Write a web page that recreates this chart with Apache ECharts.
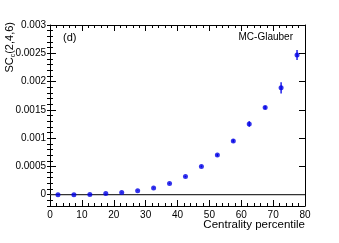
<!DOCTYPE html>
<html><head><meta charset="utf-8">
<script src="https://cdn.jsdelivr.net/npm/echarts@6/dist/echarts.min.js"></script>
<style>html,body{margin:0;padding:0;background:#fff}#c{width:339px;height:243px}</style>
</head><body><div id="c"></div>
<script>
const centrality = [2.5, 7.5, 12.5, 17.5, 22.5, 27.5, 32.5, 37.5, 42.5, 47.5, 52.5, 57.5, 62.5, 67.5, 72.5, 77.5];
const sc246 = [0.0, 0.0, 0.000005, 0.00002, 0.00004, 0.00007, 0.00012, 0.0002, 0.00032, 0.0005, 0.0007, 0.00095, 0.00125, 0.00154, 0.00189, 0.00247];
const sc246Err = [0.000005, 0.000005, 0.000005, 0.000005, 0.000005, 0.000006, 0.000008, 0.00001, 0.000012, 0.000015, 0.00002, 0.000025, 0.00005, 0.00003, 0.0001, 0.00009];
const yMajor = [0, 0.0005, 0.001, 0.0015, 0.002, 0.0025, 0.003];
const yMinor = [];
for (let i = -2; i <= 30; i++) yMinor.push(+(i * 0.0001).toFixed(4));
const xMajor = [0, 10, 20, 30, 40, 50, 60, 70, 80];

const font = 'Liberation Sans, Arial, sans-serif';
const chart = echarts.init(document.getElementById('c'), null, {renderer: 'canvas'});
const yBase = {
  type: 'value', min: -0.0002, max: 0.003,
  splitLine: {show: false}
};
const fmt = v => Number(v.toFixed(4)).toString();
const pts = centrality.map((x, i) => [x, sc246[i], sc246Err[i]]);
chart.setOption({
  animation: false,
  grid: {left: 50, right: 34, top: 25, bottom: 37},
  xAxis: [
    {type: 'value', min: 0, max: 80, interval: 10, position: 'bottom',
     axisLine: {onZero: false, lineStyle: {color: '#000', width: 1}},
     axisTick: {inside: true, length: 6, customValues: xMajor, lineStyle: {color: '#000'}},
     minorTick: {show: true, splitNumber: 5, length: 3, lineStyle: {color: '#000'}},
     axisLabel: {color: '#000', fontSize: 10, fontFamily: font, margin: 4, customValues: xMajor},
     splitLine: {show: false}},
    {type: 'value', min: 0, max: 80, interval: 10, position: 'top',
     axisLine: {onZero: false, lineStyle: {color: '#000', width: 1}},
     axisTick: {inside: true, length: 6, lineStyle: {color: '#000'}},
     minorTick: {show: true, splitNumber: 5, length: 3, lineStyle: {color: '#000'}},
     axisLabel: {show: false}, splitLine: {show: false}}
  ],
  yAxis: [
    Object.assign({}, yBase, {position: 'left',
      axisLine: {show: true, onZero: false, lineStyle: {color: '#000'}},
      axisTick: {show: true, inside: true, length: 6, customValues: yMajor, lineStyle: {color: '#000'}},
      axisLabel: {color: '#000', fontSize: 10, fontFamily: font, margin: 4, customValues: yMajor, formatter: fmt}}),
    Object.assign({}, yBase, {position: 'right',
      axisLine: {show: true, onZero: false, lineStyle: {color: '#000'}},
      axisTick: {show: true, inside: true, length: 6, customValues: yMajor, lineStyle: {color: '#000'}},
      axisLabel: {show: false}}),
    Object.assign({}, yBase, {position: 'left',
      axisLine: {show: false},
      axisTick: {show: true, inside: true, length: 3, customValues: yMinor, lineStyle: {color: '#000'}},
      axisLabel: {show: false}}),
    Object.assign({}, yBase, {position: 'right',
      axisLine: {show: false},
      axisTick: {show: true, inside: true, length: 3, customValues: yMinor, lineStyle: {color: '#000'}},
      axisLabel: {show: false}})
  ],
  series: [
    {type: 'line', data: [[0, 0], [80, 0]], symbol: 'none', silent: true,
     lineStyle: {color: '#333', width: 1.2}, z: 1},
    {type: 'custom', data: pts, z: 2,
     renderItem: function (params, api) {
       const x = api.value(0), y = api.value(1), e = api.value(2);
       const p1 = api.coord([x, y - e]), p2 = api.coord([x, y + e]);
       return {type: 'line', shape: {x1: p1[0], y1: p1[1], x2: p2[0], y2: p2[1]},
               style: {stroke: '#0000e6', lineWidth: 1.3}};
     }},
    {type: 'scatter', data: pts.map(p => [p[0], p[1]]), symbol: 'circle', symbolSize: 5,
     itemStyle: {color: '#0000e6'}, z: 3}
  ],
  graphic: [
    {type: 'text', left: 63, top: 32, style: {text: '(d)', fontSize: 11, fontFamily: font, fill: '#000'}},
    {type: 'text', right: 46, top: 32, style: {text: 'MC-Glauber', fontSize: 10, fontFamily: font, fill: '#000'}},
    {type: 'text', right: 34, top: 219, style: {text: 'Centrality percentile', fontSize: 11.5, fontFamily: font, fill: '#000'}},
    {type: 'text', x: 10, y: 22, rotation: Math.PI / 2,
     style: {text: 'SC{sub|c}(2,4,6)', fontSize: 11, fontFamily: font, fill: '#000', align: 'right', verticalAlign: 'middle',
             rich: {sub: {fontSize: 7, fontFamily: font, fill: '#000', padding: [6, 0, 0, 0]}}}}
  ]
});
</script></body></html>
